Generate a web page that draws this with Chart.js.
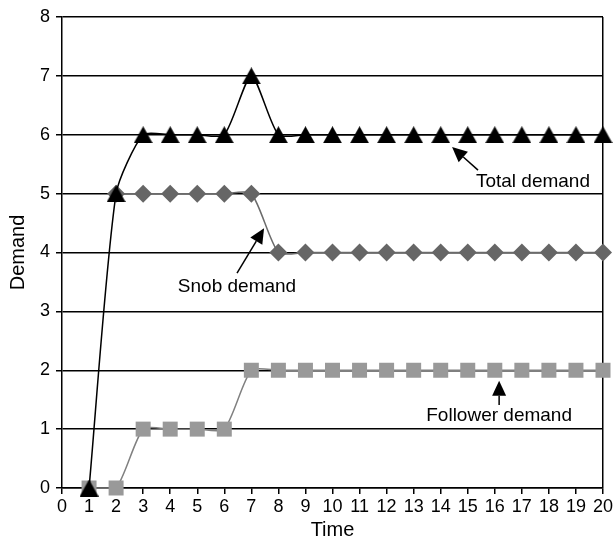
<!DOCTYPE html>
<html>
<head>
<meta charset="utf-8">
<script src="https://cdn.jsdelivr.net/npm/chart.js@4"></script>
<style>
  html, body { margin: 0; padding: 0; background: #fff; }
  #wrap { width: 616px; height: 537px; }
</style>
</head>
<body>
<div id="wrap"><canvas id="demandChart" width="616" height="537"></canvas></div>
<script>
// data
var times = [1, 2, 3, 4, 5, 6, 7, 8, 9, 10, 11, 12, 13, 14, 15, 16, 17, 18, 19, 20];
var totalDemand = [0, 5, 6, 6, 6, 6, 7, 6, 6, 6, 6, 6, 6, 6, 6, 6, 6, 6, 6, 6];
var snobDemand = [null, 5, 5, 5, 5, 5, 5, 4, 4, 4, 4, 4, 4, 4, 4, 4, 4, 4, 4, 4];
var followerDemand = [0, 0, 1, 1, 1, 1, 2, 2, 2, 2, 2, 2, 2, 2, 2, 2, 2, 2, 2, 2];
var xTicks = [0, 1, 2, 3, 4, 5, 6, 7, 8, 9, 10, 11, 12, 13, 14, 15, 16, 17, 18, 19, 20];
var yTicks = [0, 1, 2, 3, 4, 5, 6, 7, 8];

// callouts in data units: text anchor, arrow tail, arrow tip
var callouts = [
    { text: 'Total demand', tx: 17.41, ty: 5.2, ax: 15.38, ay: 5.40, bx: 14.42, by: 5.79 },
    { text: 'Snob demand', tx: 6.47, ty: 3.41, ax: 6.47, ay: 3.65, bx: 7.47, by: 4.41 },
    { text: 'Follower demand', tx: 16.16, ty: 1.22, ax: 16.16, ay: 1.41, bx: 16.16, by: 1.82 }
];

function toPoints(ys) {
    return times.map(function (t, i) { return { x: t, y: ys[i] }; });
}

var FONT = '"Liberation Sans", Arial, Helvetica, sans-serif';

// triangle marker centred on the point, like the original
var tri = document.createElement('canvas');
tri.width = 19;
tri.height = 17;
(function () {
    var c = tri.getContext('2d');
    c.fillStyle = '#000';
    c.beginPath();
    c.moveTo(9.5, 0);
    c.lineTo(19, 17);
    c.lineTo(0, 17);
    c.closePath();
    c.fill();
})();

var calloutPlugin = {
    id: 'callouts',
    afterDatasetsDraw: function (chart) {
        var ctx = chart.ctx;
        var xs = chart.scales.x, ys = chart.scales.y;
        ctx.save();
        ctx.fillStyle = '#000';
        ctx.strokeStyle = '#000';
        ctx.lineWidth = 1.5;
        ctx.font = '19px ' + FONT;
        ctx.textAlign = 'center';
        ctx.textBaseline = 'middle';
        callouts.forEach(function (c) {
            var ax = xs.getPixelForValue(c.ax), ay = ys.getPixelForValue(c.ay);
            var bx = xs.getPixelForValue(c.bx), by = ys.getPixelForValue(c.by);
            var ang = Math.atan2(by - ay, bx - ax);
            var head = 15, half = 7;
            var hx = bx - Math.cos(ang) * head, hy = by - Math.sin(ang) * head;
            ctx.beginPath();
            ctx.moveTo(ax, ay);
            ctx.lineTo(hx, hy);
            ctx.stroke();
            ctx.beginPath();
            ctx.moveTo(bx, by);
            ctx.lineTo(hx + Math.sin(ang) * half, hy - Math.cos(ang) * half);
            ctx.lineTo(hx - Math.sin(ang) * half, hy + Math.cos(ang) * half);
            ctx.closePath();
            ctx.fill();
            ctx.fillText(c.text, xs.getPixelForValue(c.tx), ys.getPixelForValue(c.ty));
        });
        ctx.restore();
    }
};

var ctx = document.getElementById('demandChart').getContext('2d');
new Chart(ctx, {
    type: 'line',
    data: {
        datasets: [{
            label: 'Total demand',
            data: toPoints(totalDemand),
            borderColor: '#000',
            backgroundColor: '#000',
            borderWidth: 1.5,
            tension: 0.22,
            clip: false,
            pointStyle: tri,
            pointRadius: 10,
            pointBorderWidth: 0
        }, {
            label: 'Snob demand',
            data: toPoints(snobDemand),
            borderColor: '#6b6b6b',
            backgroundColor: '#666666',
            borderWidth: 1.5,
            tension: 0.22,
            clip: false,
            pointStyle: 'rectRot',
            pointRadius: 9,
            pointBorderWidth: 0
        }, {
            label: 'Follower demand',
            data: toPoints(followerDemand),
            borderColor: '#808080',
            backgroundColor: '#999999',
            borderWidth: 1.5,
            tension: 0.22,
            clip: false,
            pointStyle: 'rect',
            pointRadius: 10.6,
            pointBorderWidth: 0
        }]
    },
    options: {
        responsive: false,
        animation: false,
        layout: { padding: { top: 17, right: 13, left: 0, bottom: 0 } },
        plugins: {
            legend: { display: false },
            tooltip: { enabled: false }
        },
        scales: {
            x: {
                type: 'linear',
                min: 0,
                max: 20,
                afterBuildTicks: function (axis) {
                    axis.ticks = xTicks.map(function (v) { return { value: v }; });
                },
                afterFit: function (axis) { axis.height = 49; },
                ticks: {
                    color: '#000',
                    font: { family: FONT, size: 18 },
                    padding: 2,
                    maxRotation: 0,
                    autoSkip: false
                },
                grid: {
                    drawOnChartArea: true,
                    color: function (c) { return c.tick && c.tick.value === 20 ? '#000' : 'rgba(0,0,0,0)'; },
                    tickColor: '#000',
                    tickLength: 6,
                    lineWidth: 1.5
                },
                border: { display: true, color: '#000', width: 1.5 },
                title: {
                    display: true,
                    text: 'Time',
                    color: '#000',
                    font: { family: FONT, size: 20, lineHeight: 1 },
                    padding: { top: 0, bottom: -3 }
                }
            },
            y: {
                min: 0,
                max: 8,
                afterBuildTicks: function (axis) {
                    axis.ticks = yTicks.map(function (v) { return { value: v }; });
                },
                afterFit: function (axis) { axis.width = 62; },
                ticks: {
                    color: '#000',
                    font: { family: FONT, size: 18 },
                    padding: 6
                },
                grid: {
                    color: '#000',
                    lineWidth: 1.5,
                    tickLength: 6
                },
                border: { display: true, color: '#000', width: 1.5 },
                title: {
                    display: true,
                    text: 'Demand',
                    color: '#000',
                    font: { family: FONT, size: 20, lineHeight: 1 },
                    padding: { top: 8, bottom: 0 }
                }
            }
        }
    },
    plugins: [calloutPlugin]
});
</script>
</body>
</html>
